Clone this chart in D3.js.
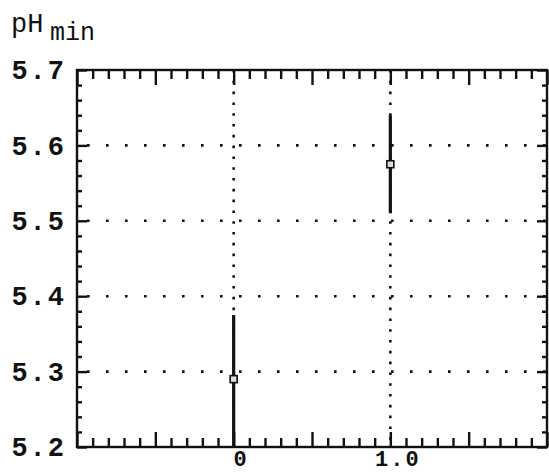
<!DOCTYPE html>
<html>
<head>
<meta charset="utf-8">
<script src="https://cdn.jsdelivr.net/npm/d3@7"></script>
<style>
  html, body { margin: 0; padding: 0; background: #fff; }
  svg { display: block; }
  text { font-family: "Liberation Mono", "Courier New", monospace; fill: #111; }
</style>
</head>
<body>
<svg id="chart" width="549" height="475"></svg>
<script>
// Treatment levels on the x axis and the measured minimum pH
const xValues = [0, 1];
const pHmean = [5.29, 5.575];
const pHlow = [5.2, 5.51];
const pHhigh = [5.375, 5.64];

// Axis ticks and labels
const yTickValues = [5.2, 5.3, 5.4, 5.5, 5.6, 5.7];
const yGridValues = [5.3, 5.4, 5.5, 5.6];
const xTickValues = [0, 1];
const xTickLabels = ["0", "1.0"];
const xGridValues = [0, 1];

const svg = d3.select("#chart");
const margin = { left: 77, right: 2, top: 70, bottom: 28 };
const W = 549, H = 475;

const x = d3.scaleLinear().domain([-1, 2]).range([margin.left, W - margin.right]);
const y = d3.scaleLinear().domain([5.2, 5.7]).range([H - margin.bottom, margin.top]);

const x0 = x.range()[0], x1 = x.range()[1];
const yB = y.range()[0], yT = y.range()[1];

// dotted grid
svg.append("g").selectAll("line").data(yGridValues).join("line")
  .attr("x1", x0 + 2).attr("x2", x1)
  .attr("y1", d => y(d)).attr("y2", d => y(d))
  .attr("stroke", "#111").attr("stroke-width", 2.6)
  .attr("stroke-dasharray", "2.6 16.4")
  .attr("stroke-dashoffset", -8);

svg.append("g").selectAll("line").data(xGridValues).join("line")
  .attr("x1", d => x(d)).attr("x2", d => x(d))
  .attr("y1", yT).attr("y2", yB)
  .attr("stroke", "#111").attr("stroke-width", 2.6)
  .attr("stroke-dasharray", "2.6 8.2");

// minor and major ticks, pointing into the frame
const xMinor = d3.range(-10, 21).map(i => i / 10).filter(v => Math.abs(v * 2 - Math.round(v * 2)) > 1e-9);
const xMajor = d3.range(-2, 5).map(i => i / 2);
const yMinor = d3.range(0, 26).map(i => 5.2 + i * 0.02).filter(v => Math.abs(v * 10 - Math.round(v * 10)) > 1e-6);

function tickAxis(axisFn, scale, values, size, tx, ty) {
  const g = svg.append("g").attr("transform", `translate(${tx},${ty})`)
    .call(axisFn(scale).tickValues(values).tickSize(-size).tickFormat(""));
  g.select(".domain").remove();
  g.selectAll(".tick line").attr("stroke", "#111").attr("stroke-width", 2.4);
  return g;
}
tickAxis(d3.axisBottom, x, xMinor, 9, 0, yB);
tickAxis(d3.axisBottom, x, xMajor, 15, 0, yB);
tickAxis(d3.axisTop, x, xMinor, 9, 0, yT);
tickAxis(d3.axisTop, x, xMajor, 15, 0, yT);
tickAxis(d3.axisLeft, y, yMinor, 5, x0, 0);
tickAxis(d3.axisLeft, y, yTickValues, 10, x0, 0);
tickAxis(d3.axisRight, y, yMinor, 5, x1, 0);
tickAxis(d3.axisRight, y, yTickValues, 10, x1, 0);

// frame
svg.append("rect")
  .attr("x", x0).attr("y", yT)
  .attr("width", x1 - x0).attr("height", yB - yT)
  .attr("fill", "none").attr("stroke", "#111").attr("stroke-width", 2.4);

// y labels
const yAxis = svg.append("g").attr("transform", `translate(${x0},0)`)
  .call(d3.axisLeft(y).tickValues(yTickValues).tickSize(0).tickPadding(11).tickFormat(d3.format(".1f")));
yAxis.select(".domain").remove();
yAxis.selectAll("text")
  .style("font-family", '"Liberation Mono", "Courier New", monospace')
  .attr("font-size", 27).attr("font-weight", "bold").attr("fill", "#111")
  .attr("letter-spacing", 2);

// x labels
const xAxis = svg.append("g").attr("transform", `translate(0,${yB})`)
  .call(d3.axisBottom(x).tickValues(xTickValues).tickSize(0).tickPadding(3)
    .tickFormat((d, i) => xTickLabels[i]));
xAxis.select(".domain").remove();
xAxis.selectAll("text")
  .style("font-family", '"Liberation Mono", "Courier New", monospace')
  .attr("font-size", 22).attr("font-weight", "bold").attr("fill", "#111")
  .attr("dx", 7).attr("letter-spacing", 2);

// error bars
const pts = xValues.map((v, i) => ({ x: v, mean: pHmean[i], lo: pHlow[i], hi: pHhigh[i] }));
svg.append("g").selectAll("line").data(pts).join("line")
  .attr("x1", d => x(d.x)).attr("x2", d => x(d.x))
  .attr("y1", d => y(d.lo)).attr("y2", d => y(d.hi))
  .attr("stroke", "#111").attr("stroke-width", 3.2);

// mean markers
svg.append("g").selectAll("rect").data(pts).join("rect")
  .attr("x", d => x(d.x) - 3.5).attr("y", d => y(d.mean) - 3.5)
  .attr("width", 7).attr("height", 7)
  .attr("fill", "#ddd").attr("stroke", "#111").attr("stroke-width", 1.6);

// y axis title
const title = svg.append("text").attr("x", 11).attr("y", 32)
  .attr("font-size", 27);
title.append("tspan").text("pH");
title.append("tspan").attr("x", 50).attr("font-size", 25).attr("dy", 8).text("min");
</script>
</body>
</html>
